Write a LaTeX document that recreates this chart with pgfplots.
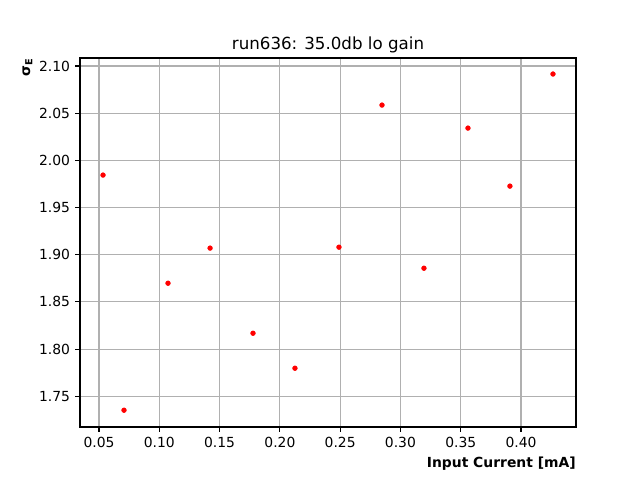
\documentclass[border=0pt]{standalone}
\usepackage{fontspec}
\setmainfont{DejaVu Sans}
\usepackage{pgfplots}
\pgfplotsset{compat=1.18}
\begin{document}
\begin{tikzpicture}
\path[use as bounding box] (-57.6pt,-38.16pt) rectangle (403.2pt,307.44pt);
\begin{axis}[
  at={(0,0)}, anchor=south west,
  width=357.12pt, height=265.68pt, scale only axis,
  xmin=0.0342, xmax=0.4456, ymin=1.7174, ymax=2.1085,
  xtick={0.05,0.1,0.15,0.2,0.25,0.3,0.35,0.4},
  ytick={1.75,1.8,1.85,1.9,1.95,2.0,2.05,2.1},
  grid=major,
  major grid style={color=black!31, line width=0.8pt},
  tick align=outside, tick pos=left, major tick length=3.5pt,
  axis line style={line width=0.8pt},
  tick style={black, line width=0.8pt},
  ticklabel style={font=\fontsize{10}{12}\selectfont},
  xticklabel style={inner sep=0pt, yshift=-3.5pt},
  yticklabel style={inner sep=0pt, xshift=-3.5pt},
  /pgf/number format/.cd, fixed, fixed zerofill, precision=2, assume math mode=true,
  /pgfplots/.cd,
  title={run636: 35.0db lo gain},
  title style={font=\fontsize{12}{14}\selectfont, at={(rel axis cs:0.5,1)}, anchor=south, inner sep=0pt, yshift=-2.6pt},
  xlabel={\textbf{Input Current [mA]}},
  xlabel style={font=\fontsize{10}{12}\selectfont, at={(rel axis cs:1,0)}, anchor=north east, inner sep=0pt, yshift=-21.6pt},
]
\addplot[only marks, mark=*, mark size=1.7pt, draw=red, fill=red] coordinates {
(0.0533,1.9844)
(0.0707,1.7352)
(0.1072,1.8698)
(0.1421,1.9070)
(0.1777,1.8168)
(0.2125,1.7797)
(0.2490,1.9080)
(0.2847,2.0586)
(0.3195,1.8857)
(0.3560,2.0342)
(0.3908,1.9727)
(0.4265,2.0915)
};
\end{axis}
\node[rotate=90, anchor=south east, inner sep=0pt, font=\fontsize{10}{12}\selectfont] at (-34pt,265.68pt) {\textbf{σ\textsubscript{E}}};
\end{tikzpicture}
\end{document}
